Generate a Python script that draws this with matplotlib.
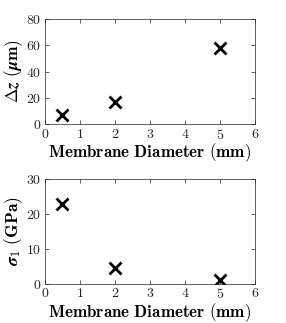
import matplotlib
matplotlib.use("Agg")
import matplotlib.pyplot as plt

plt.rcParams['font.family'] = 'serif'
plt.rcParams['font.serif'] = ['cmr10']
plt.rcParams['mathtext.fontset'] = 'cm'
plt.rcParams['axes.formatter.use_mathtext'] = True

diam = [0.5, 2, 5]
dz = [7, 17, 58]
sigma = [22.8, 4.6, 1.2]
xticks = [0, 1, 2, 3, 4, 5, 6]

fig = plt.figure(figsize=(2.86, 3.23), dpi=100)
ax1 = fig.add_axes([0.157, 0.616, 0.734, 0.325])
ax2 = fig.add_axes([0.157, 0.121, 0.734, 0.325])

for ax, y, ylim, yt, ylab in [
    (ax1, dz, (0, 80), [0, 20, 40, 60, 80], r'$\mathbf{\Delta}\boldsymbol{z}\ \mathbf{(}\boldsymbol{\mu}\mathbf{m)}$'),
    (ax2, sigma, (0, 30), [0, 10, 20, 30], r'$\boldsymbol{\sigma}_\mathbf{1}\ \mathbf{(GPa)}$'),
]:
    ax.plot(diam, y, 'x', color='black', markersize=8, markeredgewidth=2)
    ax.set_xlim(0, 6)
    ax.set_ylim(*ylim)
    ax.set_xticks(xticks)
    ax.set_yticks(yt)
    ax.tick_params(direction='in', top=True, right=True, labelsize=10, length=3, width=0.5,
                   pad=2.5, colors='#262626', labelcolor='#262626')
    for s in ax.spines.values():
        s.set_linewidth(0.5)
        s.set_color('#262626')
    ax.set_xlabel(r'$\mathbf{Membrane\ Diameter\ (mm)}$', fontsize=12.3, labelpad=0)
    ax.set_ylabel(ylab, fontsize=12.5, labelpad=1)

fig.savefig('out.png', dpi=100, facecolor='white')
